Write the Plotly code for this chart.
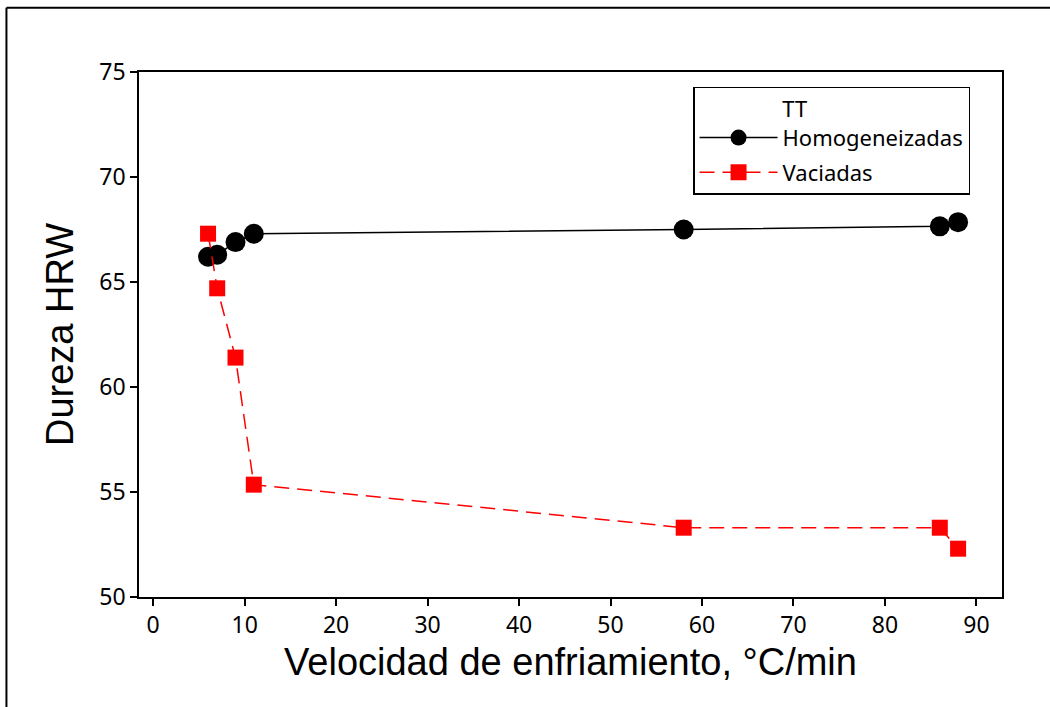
import plotly.graph_objects as go

# Cooling rate (°C/min) and hardness (HRW) for each heat treatment
velocidad = [6, 7, 9, 11, 58, 86, 88]
dureza_homogeneizadas = [66.2, 66.3, 66.9, 67.3, 67.5, 67.65, 67.85]
dureza_vaciadas = [67.3, 64.7, 61.4, 55.35, 53.3, 53.3, 52.3]

x_ticks = [0, 10, 20, 30, 40, 50, 60, 70, 80, 90]
y_ticks = [50, 55, 60, 65, 70, 75]

SANS = "Noto Sans, DejaVu Sans, sans-serif"
TICK_FONT = dict(family=SANS, size=23, color="black")
LEGEND_FONT = dict(family=SANS, size=22, color="black")
TITLE_FONT = dict(family="Liberation Sans, Arial, sans-serif", size=38, color="black")

fig = go.Figure()

fig.add_trace(go.Scatter(
    x=velocidad, y=dureza_homogeneizadas,
    name="Homogeneizadas", legendgroup="h",
    mode="lines+markers",
    line=dict(color="black", width=1.5),
    marker=dict(symbol="circle", size=20, color="black"),
))

fig.add_trace(go.Scatter(
    x=velocidad, y=dureza_vaciadas,
    name="Vaciadas", legendgroup="v",
    mode="lines+markers",
    line=dict(color="#ff0000", width=1.5, dash="15px,8px"),
    marker=dict(symbol="square", size=16, color="#ff0000"),
))

axis_common = dict(
    showline=True, linecolor="black", linewidth=1.5, mirror=True,
    ticks="outside", ticklen=7, tickwidth=1.5, tickcolor="black",
    showgrid=False, zeroline=False, tickfont=TICK_FONT,
)

fig.update_xaxes(
    range=[-1.55, 92.8], tickvals=x_ticks,
    title=dict(text="Velocidad de enfriamiento, °C/min", font=TITLE_FONT, standoff=9),
    **axis_common,
)
fig.update_yaxes(
    range=[50, 75], tickvals=y_ticks,
    title=dict(text="Dureza HRW", font=TITLE_FONT, standoff=14),
    **axis_common,
)

# Outer frame around the figure (left and top edges visible)
fig.add_shape(type="line", xref="paper", yref="paper",
              x0=-0.1536, x1=-0.1536, y0=-0.3, y1=1.1226,
              line=dict(color="black", width=2))
fig.add_shape(type="line", xref="paper", yref="paper",
              x0=-0.1536, x1=1.2, y0=1.1226, y1=1.1226,
              line=dict(color="black", width=2))

fig.update_layout(
    width=1050, height=707,
    margin=dict(l=139, r=48, t=72, b=110, autoexpand=False),
    paper_bgcolor="white", plot_bgcolor="white",
    showlegend=True,
    legend=dict(
        title=dict(text="&nbsp;" * 15 + "TT", font=LEGEND_FONT),
        x=0.642, y=0.972, xanchor="left", yanchor="top",
        bgcolor="white", bordercolor="black", borderwidth=1.5,
        font=LEGEND_FONT,
        itemwidth=78, traceorder="grouped", tracegroupgap=3,
    ),
)

fig.write_html("out.html")
